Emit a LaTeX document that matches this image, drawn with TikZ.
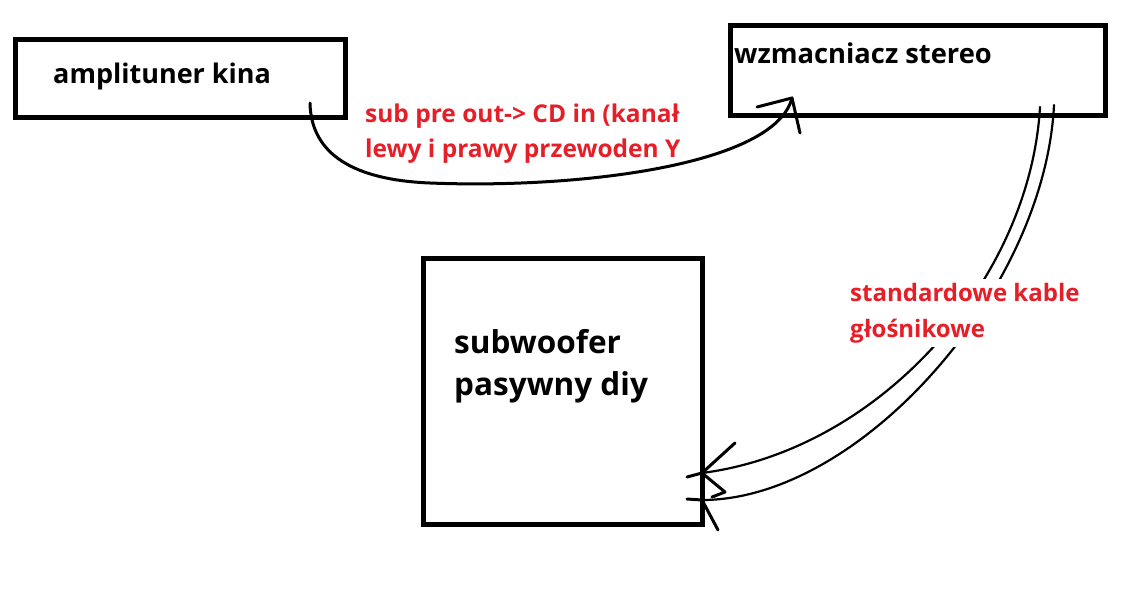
\documentclass[tikz,border=0pt]{standalone}
\usepackage{fontspec}
\setmainfont{Open Sans}
\definecolor{paintred}{RGB}{230,30,40}
\begin{document}
\begin{tikzpicture}[x=1pt,y=-1pt,
  box/.style={draw=black,line width=5pt,inner sep=0pt},
  lbl/.style={anchor=base west,inner sep=0pt,align=left},
  redlbl/.style={anchor=base west,inner xsep=0pt,inner ysep=4pt,text=paintred,align=left},
  wire/.style={line width=3pt,line cap=round,line join=round},
  cable/.style={line width=2.2pt,line cap=round,line join=round}]
\useasboundingbox (0,0) rectangle (1135,614);
% boxes
\node[box,minimum width=330pt,minimum height=78pt] (amp) at (180.3,78.3) {};
\node[box,minimum width=375pt,minimum height=90pt] (wzm) at (918,70.5) {};
\node[box,minimum width=279pt,minimum height=266pt] (sub) at (563,391.5) {};
% box texts (base anchor = baseline of the last line)
\node[lbl,font=\bfseries\fontsize{27}{32}\selectfont] (ampt) at (53,83) {amplituner kina};
\node[lbl,font=\bfseries\fontsize{27.3}{32}\selectfont] (wzmt) at (734,63) {wzmacniacz stereo};
\node[lbl,font=\bfseries\fontsize{31.5}{42}\selectfont] (subt) at (454,395) {subwoofer\\pasywny diy};
% connector 1
\coordinate (s1) at (310,103);
\coordinate (m1) at (430,183);
\coordinate (t1) at (792,98);
\coordinate (b1a) at (757,107);
\coordinate (b1b) at (800,133);
\draw[wire] (s1) .. controls (311,155) and (355,180) .. (m1)
                 .. controls (580,189) and (775,165) .. (t1);
\draw[wire] (b1a) -- (t1) -- (b1b);
% speaker cables
\coordinate (ca) at (1040,107);
\coordinate (cb) at (1054,105);
\coordinate (ta) at (702,473);
\coordinate (tb) at (702,500);
\coordinate (sa) at (687,477);
\coordinate (sb) at (687,499);
\draw[cable] (ca) .. controls (1030,280) and (880,450) .. (ta);
\draw[cable] (cb) .. controls (1045,290) and (860,500) .. (tb);
\draw[wire] (sa) -- (ta) -- (735,443);
\draw[wire] (ta) -- (725,492) -- (712,497);
\draw[wire] (sb) -- (tb) -- (718,530);
% labels
\node[redlbl,font=\bfseries\fontsize{24.5}{35}\selectfont] (l1) at (365,157) {sub pre out-> CD in (kanał\\lewy i prawy przewoden Y};
\node[redlbl,fill=white,font=\bfseries\fontsize{24}{36}\selectfont] (l2) at (850,337) {standardowe kable\\głośnikowe};
\end{tikzpicture}
\end{document}
